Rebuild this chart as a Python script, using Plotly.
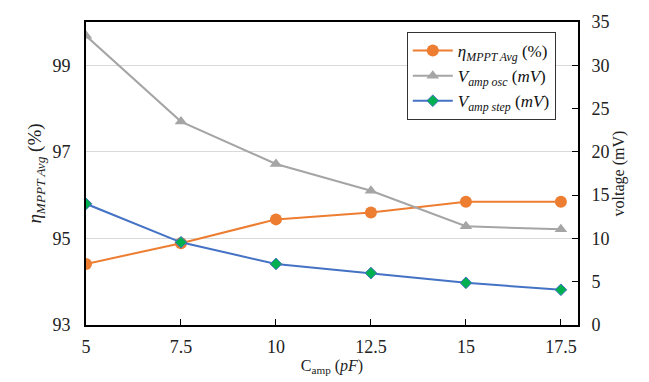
import plotly.graph_objects as go

c_amp = [5, 7.5, 10, 12.5, 15, 17.5]
eta_mppt = [94.41, 94.89, 95.44, 95.6, 95.85, 95.85]
v_osc = [33.4, 23.5, 18.6, 15.5, 11.4, 11.05]
v_step = [14.0, 9.55, 7.05, 6.0, 4.87, 4.07]

left_ticks = [93, 95, 97, 99]
right_ticks = [0, 5, 10, 15, 20, 25, 30, 35]
x_ticks = [5, 7.5, 10, 12.5, 15, 17.5]

FONT = "Liberation Serif"

fig = go.Figure()
fig.add_trace(go.Scatter(
    x=c_amp, y=eta_mppt, mode="lines+markers",
    name="<i>η</i><sub><i>MPPT Avg</i></sub> (%)",
    line=dict(color="#ED7D31", width=2),
    marker=dict(symbol="circle", size=12, color="#ED7D31"),
    yaxis="y"))
fig.add_trace(go.Scatter(
    x=c_amp, y=v_osc, mode="lines+markers",
    name="<i>V</i><sub><i>amp osc</i></sub> (<i>mV</i>)",
    line=dict(color="#A5A5A5", width=2),
    marker=dict(symbol="triangle-up", size=11, color="#A5A5A5"),
    yaxis="y2"))
fig.add_trace(go.Scatter(
    x=c_amp, y=v_step, mode="lines+markers",
    name="<i>V</i><sub><i>amp step</i></sub> (<i>mV</i>)",
    line=dict(color="#4472C4", width=2),
    marker=dict(symbol="diamond", size=9, color="#00B050",
                line=dict(color="#4472C4", width=1)),
    yaxis="y2"))

fig.update_layout(
    width=649, height=382,
    margin=dict(l=86, r=71, t=20, b=57),
    paper_bgcolor="white", plot_bgcolor="white",
    font=dict(family=FONT, size=18, color="#222222"),
    showlegend=True,
    legend=dict(x=0.652, y=0.967, xanchor="left", yanchor="top",
                bgcolor="white", bordercolor="#333333", borderwidth=1,
                font=dict(family=FONT, size=17, color="#111111"),
                itemwidth=40, tracegroupgap=4),
    xaxis=dict(
        range=[5, 17.95], tickvals=x_ticks,
        ticktext=[str(t) for t in x_ticks],
        showgrid=False, zeroline=False,
        showline=True, linecolor="black", linewidth=2, mirror=True,
        ticks="inside", ticklen=6, tickcolor="black", tickwidth=1,
        ticklabelstandoff=4,
        title=dict(text="C<sub>amp</sub> (<i>pF</i>)",
                   font=dict(family=FONT, size=16), standoff=0),
    ),
    yaxis=dict(
        range=[93, 100], tickvals=left_ticks,
        showgrid=True, gridcolor="#D9D9D9", gridwidth=1,
        zeroline=False,
        showline=True, linecolor="black", linewidth=2,
        ticks="", ticklabelstandoff=10,
        title=dict(text="<i>η</i><sub><i>MPPT Avg</i></sub> (%)",
                   font=dict(family=FONT, size=19), standoff=6),
    ),
    yaxis2=dict(
        range=[0, 35], tickvals=right_ticks,
        overlaying="y", side="right",
        showgrid=False, zeroline=False,
        showline=True, linecolor="black", linewidth=2,
        ticks="inside", ticklen=6, tickcolor="black", tickwidth=1,
        ticklabelstandoff=8,
        title=dict(text="voltage (mV)", font=dict(family=FONT, size=16),
                   standoff=4),
    ),
)

fig.write_html("out.html")
